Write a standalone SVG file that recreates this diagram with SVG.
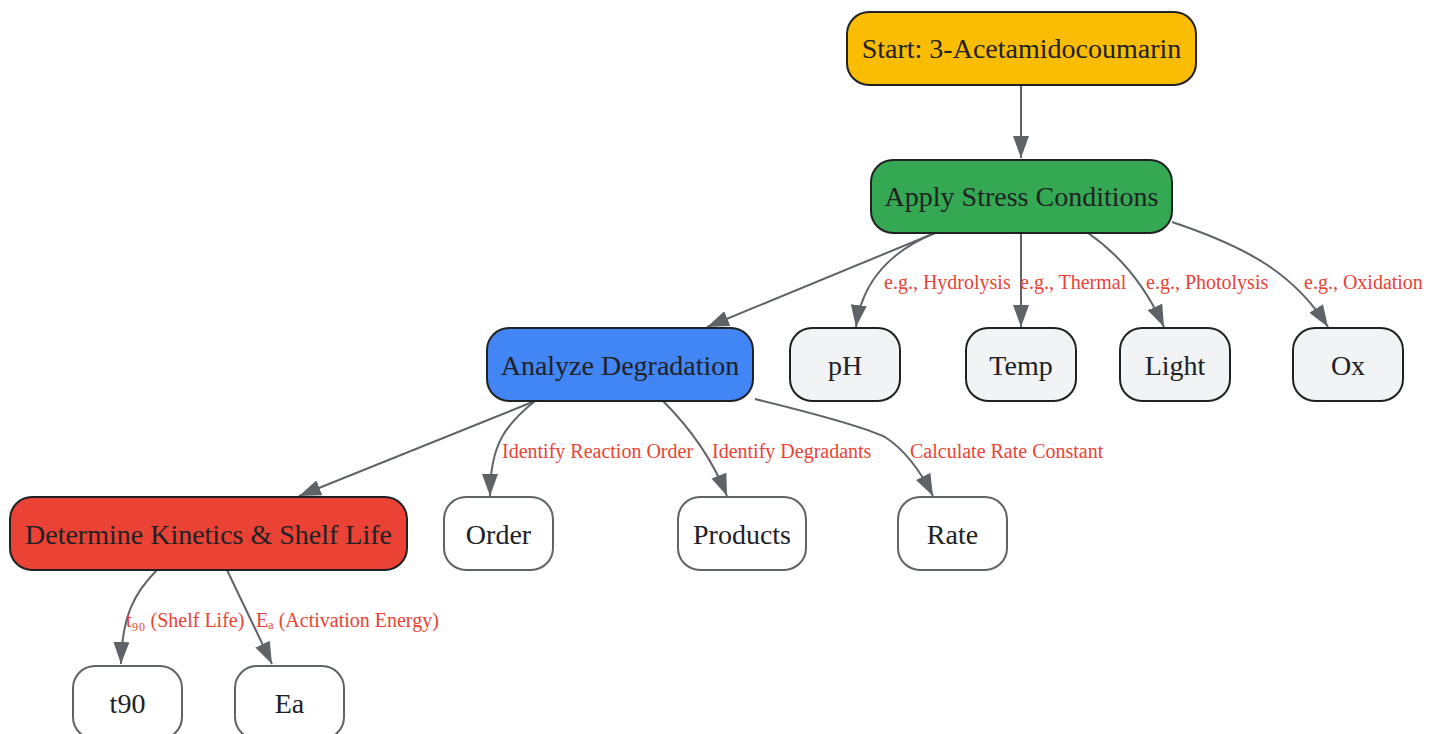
<svg xmlns="http://www.w3.org/2000/svg" width="1439" height="734" viewBox="0 0 1439 734">
<style>
.n rect{stroke:#202124;stroke-width:2}
.n.w rect{fill:#ffffff;stroke:#5f6368}
.n text{font-family:"Liberation Serif",serif;font-size:28px;fill:#202124;text-anchor:middle}
.e path{fill:none;stroke:#5f6368;stroke-width:2;marker-end:url(#ah)}
.l{font-family:"Liberation Serif",serif;font-size:20px;fill:#ea4335}
</style>
<defs>
<marker id="ah" markerUnits="userSpaceOnUse" markerWidth="22" markerHeight="16" refX="22" refY="8" orient="auto">
<path d="M0,0 L22,8 L0,16 z" fill="#5f6368"/>
</marker>
</defs>
<rect width="1439" height="734" fill="#ffffff"/>
<g id="edges" class="e">
<path d="M1021,85 L1021,158"/>
<path d="M935,233 L707,327"/>
<path d="M935,233 C893,250 862,280 856,327"/>
<path d="M1021,233 L1021,327"/>
<path d="M1088,233 C1120,255 1145,285 1164,327"/>
<path d="M1172,222 C1250,248 1295,275 1328,327"/>
<path d="M535,401 L299,496"/>
<path d="M535,401 C505,425 490,445 490,496"/>
<path d="M663,401 C690,428 712,458 727,496"/>
<path d="M755,399 C800,410 860,425 885,437 C905,450 920,470 933,496"/>
<path d="M157,570 C135,592 122,615 121,664"/>
<path d="M227,570 L272,664"/>
</g>
<g id="labels">
<text class="l" x="884" y="289">e.g., Hydrolysis</text>
<text class="l" x="1020" y="289">e.g., Thermal</text>
<text class="l" x="1146" y="289">e.g., Photolysis</text>
<text class="l" x="1304" y="289">e.g., Oxidation</text>
<text class="l" x="502" y="458">Identify Reaction Order</text>
<text class="l" x="712" y="458">Identify Degradants</text>
<text class="l" x="910" y="458">Calculate Rate Constant</text>
<text class="l" x="126" y="627">t₉₀ (Shelf Life)</text>
<text class="l" x="256" y="627">Eₐ (Activation Energy)</text>
</g>
<g id="start" class="n"><rect x="847" y="12" width="349" height="73" rx="22" fill="#fbbc04"/><text x="1021.5" y="58">Start: 3-Acetamidocoumarin</text></g>
<g id="apply" class="n"><rect x="871" y="160" width="301" height="73" rx="22" fill="#34a853"/><text x="1021.5" y="206">Apply Stress Conditions</text></g>
<g id="analyze" class="n"><rect x="487" y="328" width="266" height="73" rx="22" fill="#4285f4"/><text x="620" y="375">Analyze Degradation</text></g>
<g id="ph" class="n"><rect x="790" y="328" width="110" height="73" rx="22" fill="#f1f3f4"/><text x="845" y="375">pH</text></g>
<g id="temp" class="n"><rect x="966" y="328" width="110" height="73" rx="22" fill="#f1f3f4"/><text x="1021" y="375">Temp</text></g>
<g id="light" class="n"><rect x="1120" y="328" width="110" height="73" rx="22" fill="#f1f3f4"/><text x="1175" y="375">Light</text></g>
<g id="ox" class="n"><rect x="1293" y="328" width="110" height="73" rx="22" fill="#f1f3f4"/><text x="1348" y="375">Ox</text></g>
<g id="determine" class="n"><rect x="10" y="497" width="397" height="73" rx="22" fill="#ea4335"/><text x="208.5" y="544">Determine Kinetics &amp; Shelf Life</text></g>
<g id="order" class="n w"><rect x="444" y="497" width="109" height="73" rx="22"/><text x="498.5" y="544">Order</text></g>
<g id="products" class="n w"><rect x="678" y="497" width="128" height="73" rx="22"/><text x="742" y="544">Products</text></g>
<g id="rate" class="n w"><rect x="898" y="497" width="109" height="73" rx="22"/><text x="952.5" y="544">Rate</text></g>
<g id="t90" class="n w"><rect x="73" y="666" width="109" height="73" rx="22"/><text x="127.5" y="713">t90</text></g>
<g id="ea" class="n w"><rect x="235" y="666" width="109" height="73" rx="22"/><text x="289.5" y="713">Ea</text></g>
</svg>
